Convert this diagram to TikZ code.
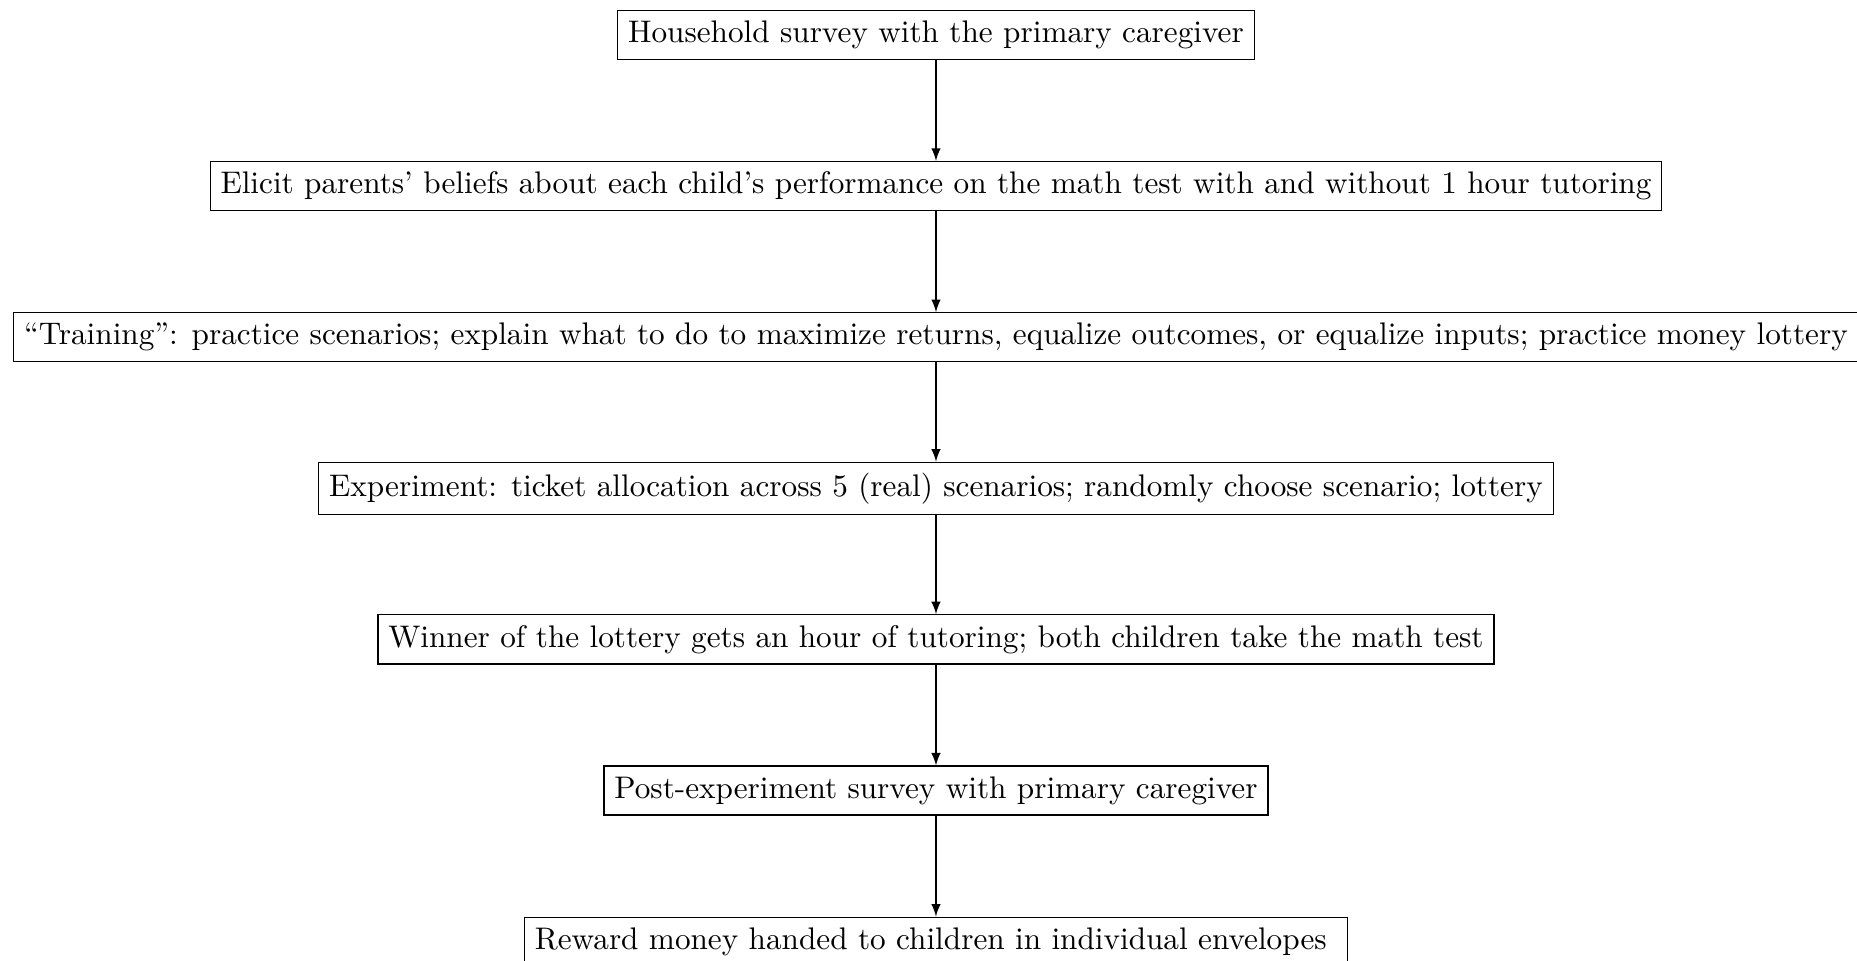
\documentclass[tikz,border=0pt]{standalone}
\begin{document}
\begin{tikzpicture}[x=1pt, y=1pt, stage/.style={draw}]
    \useasboundingbox (-299.8,11.2) rectangle (295.0,-296.6);
    \node[stage] (survey) at (0,0) {Household survey with the primary caregiver};
    \node[stage] (beliefs) at (0,-48.4) {Elicit parents' beliefs about each child's performance on the math test with and without 1 hour tutoring};
    \node[stage] (training) at (0,-96.8) {``Training'': practice scenarios; explain what to do to maximize returns, equalize outcomes, or equalize inputs; practice money lottery};
    \node[stage] (experiment) at (0,-145.2) {Experiment: ticket allocation across 5 (real) scenarios; randomly choose scenario; lottery};
    \node[stage] (winner) at (0,-193.6) {Winner of the lottery gets an hour of tutoring; both children take the math test};
    \node[stage] (post) at (0,-242.0) {Post-experiment survey with primary caregiver};
    \node[stage] (reward) at (0,-290.4) {Reward money handed to children in individual envelopes\ \null};

    \draw[-latex] (survey) -- (beliefs);
    \draw[-latex] (beliefs) -- (training);
    \draw[-latex] (training) -- (experiment);
    \draw[-latex] (experiment) -- (winner);
    \draw[-latex] (winner) -- (post);
    \draw[-latex] (post) -- (reward);
\end{tikzpicture}
\end{document}
